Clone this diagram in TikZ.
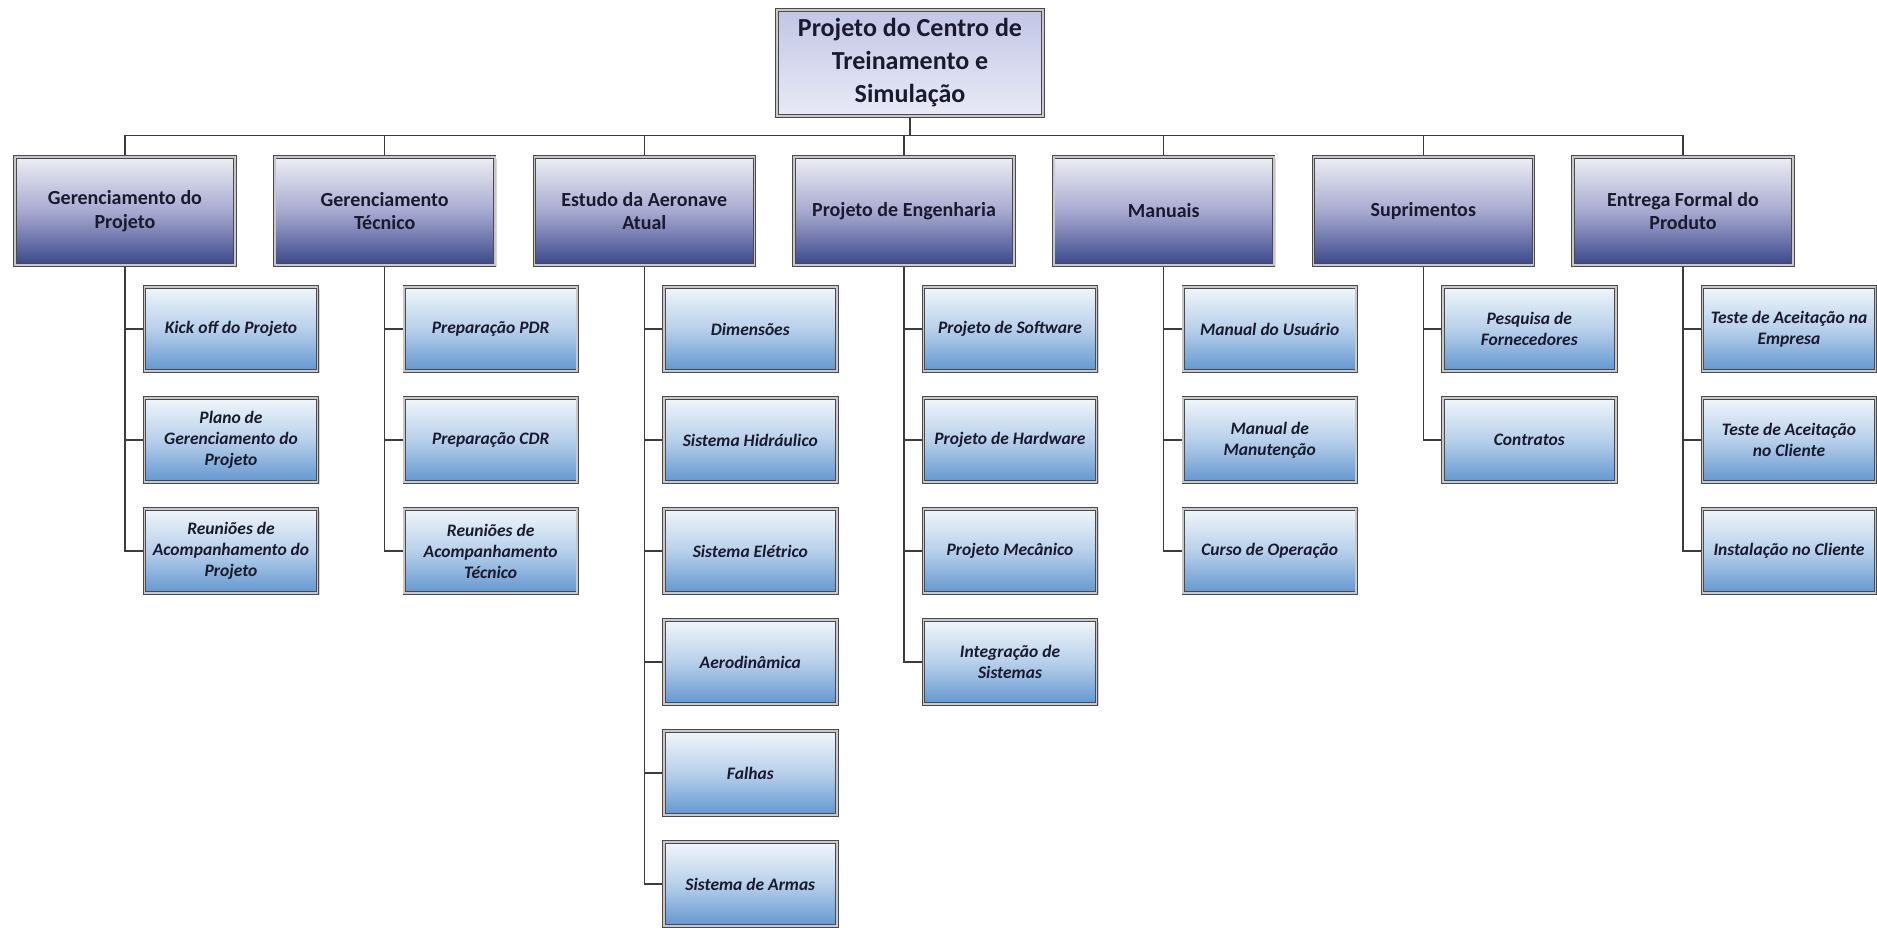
\documentclass[tikz,border=0pt]{standalone}
\usepackage{fontspec}
\setmainfont{Carlito}
\usetikzlibrary{shadows,backgrounds}
\definecolor{linegray}{HTML}{3C3C3C}
\definecolor{framegray}{HTML}{4A4A4A}
\definecolor{framelight}{HTML}{C8C8CC}
\definecolor{rootTop}{HTML}{C2C6E6}
\definecolor{rootBot}{HTML}{E9EAF6}
\definecolor{lvTop}{HTML}{EEEEF4}
\definecolor{lvMid}{HTML}{A7AAD0}
\definecolor{lvBot}{HTML}{3A468A}
\definecolor{chTop}{HTML}{F1F6FB}
\definecolor{chMid}{HTML}{B7D0EA}
\definecolor{chBot}{HTML}{6396D0}
\definecolor{textdark}{HTML}{1A1A2E}
\tikzset{
  boxbase/.style={draw=framegray, double=framelight, double distance=1.6pt, line width=0.9pt,
    align=center, inner sep=0pt, text=textdark,
    drop shadow={opacity=0.25, shadow xshift=2pt, shadow yshift=-2pt, fill=black!60}},
  rootbox/.style={boxbase, top color=rootTop, bottom color=rootBot,
    minimum width=266pt, minimum height=106pt,
    font=\fontsize{26}{33}\selectfont\bfseries},
  lvbox/.style={boxbase, top color=lvTop, bottom color=lvBot, middle color=lvMid,
    minimum width=220pt, minimum height=108pt,
    font=\fontsize{20}{23.5}\selectfont\bfseries},
  chbox/.style={boxbase, top color=chTop, bottom color=chBot, middle color=chMid,
    minimum width=173pt, minimum height=84pt,
    font=\fontsize{17.5}{21}\selectfont\bfseries\itshape},
  conn/.style={draw=linegray, line width=1.4pt}
}
\begin{document}
\begin{tikzpicture}[x=1pt,y=-1pt]
\useasboundingbox (0,0) rectangle (1877,928);
% root
\node[rootbox] (root) at (910,63) {Projeto do Centro de\\Treinamento e\\Simulação};
% level 1
\node[lvbox] (gp) at (125,211) {Gerenciamento do\\Projeto};
\node[lvbox] (gt) at (384.7,211) {Gerenciamento\\Técnico};
\node[lvbox] (ea) at (644.3,211) {Estudo da Aeronave\\Atual};
\node[lvbox] (pe) at (904,211) {Projeto de Engenharia};
\node[lvbox] (ma) at (1163.7,211) {Manuais};
\node[lvbox] (su) at (1423.3,211) {Suprimentos};
\node[lvbox] (ef) at (1683,211) {Entrega Formal do\\Produto};
% children of gp
\node[chbox] (gp1) at (231,329) {Kick off do Projeto};
\node[chbox] (gp2) at (231,440) {Plano de\\Gerenciamento do\\Projeto};
\node[chbox] (gp3) at (231,551) {Reuniões de\\Acompanhamento do\\Projeto};
% children of gt
\node[chbox] (gt1) at (490.7,329) {Preparação PDR};
\node[chbox] (gt2) at (490.7,440) {Preparação CDR};
\node[chbox] (gt3) at (490.7,551) {Reuniões de\\Acompanhamento\\Técnico};
% children of ea
\node[chbox] (ea1) at (750.3,329) {Dimensões};
\node[chbox] (ea2) at (750.3,440) {Sistema Hidráulico};
\node[chbox] (ea3) at (750.3,551) {Sistema Elétrico};
\node[chbox] (ea4) at (750.3,662) {Aerodinâmica};
\node[chbox] (ea5) at (750.3,773) {Falhas};
\node[chbox] (ea6) at (750.3,884) {Sistema de Armas};
% children of pe
\node[chbox] (pe1) at (1010,329) {Projeto de Software};
\node[chbox] (pe2) at (1010,440) {Projeto de Hardware};
\node[chbox] (pe3) at (1010,551) {Projeto Mecânico};
\node[chbox] (pe4) at (1010,662) {Integração de\\Sistemas};
% children of ma
\node[chbox] (ma1) at (1269.7,329) {Manual do Usuário};
\node[chbox] (ma2) at (1269.7,440) {Manual de\\Manutenção};
\node[chbox] (ma3) at (1269.7,551) {Curso de Operação};
% children of su
\node[chbox] (su1) at (1529.3,329) {Pesquisa de\\Fornecedores};
\node[chbox] (su2) at (1529.3,440) {Contratos};
% children of ef
\node[chbox] (ef1) at (1789,329) {Teste de Aceitação na\\Empresa};
\node[chbox] (ef2) at (1789,440) {Teste de Aceitação\\no Cliente};
\node[chbox] (ef3) at (1789,551) {Instalação no Cliente};
% connectors
\begin{scope}[on background layer]
\fill[white] (0,0) rectangle (1877,928);
\foreach \n in {gp,gt,ea,pe,ma,su,ef}
  \draw[conn] (root.south) -- ++(0,19) -| (\n.north);
\foreach \p/\c in {gp/gp1,gp/gp2,gp/gp3,gt/gt1,gt/gt2,gt/gt3,
  ea/ea1,ea/ea2,ea/ea3,ea/ea4,ea/ea5,ea/ea6,
  pe/pe1,pe/pe2,pe/pe3,pe/pe4,ma/ma1,ma/ma2,ma/ma3,
  su/su1,su/su2,ef/ef1,ef/ef2,ef/ef3}
  \draw[conn] (\p.south) |- (\c.west);
\end{scope}
\end{tikzpicture}
\end{document}
